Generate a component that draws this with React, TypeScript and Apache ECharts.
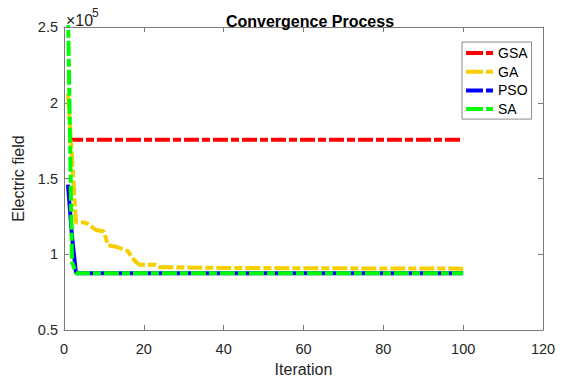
import React, { useEffect, useRef } from "react";
import * as echarts from "echarts";

// Iteration / value (x 10^5) breakpoints
const iterGSA = [1, 100];
const valGSA = [1.755, 1.755];
const iterGA = [1, 2, 3, 5, 6, 7, 8, 10, 11, 13, 16, 17, 18, 19, 23, 24, 40, 70, 100];
const valGA = [2.06, 1.64, 1.21, 1.21, 1.2, 1.18, 1.16, 1.15, 1.06, 1.05, 1.02, 0.98, 0.95, 0.93, 0.93, 0.915, 0.91, 0.907, 0.905];
const iterPSO = [1, 2, 3, 100];
const valPSO = [1.46, 1.12, 0.875, 0.875];
const iterSA = [1, 2, 3, 100];
const valSA = [2.6, 0.95, 0.875, 0.875];

const seriesNames = ["GSA", "GA", "PSO", "SA"];
const xTicks = { min: 0, max: 120, interval: 20 };
const yTicks = { min: 0.5, max: 2.5, interval: 0.5 };

const FONT = "'Liberation Sans', Arial, Helvetica, sans-serif";
const DASH = [15, 3, 8, 3];
const LEGEND_ICON = "path://M0,0L17,0L17,4L0,4Z M20,0L27,0L27,4L20,4Z";

function pairs(xs: number[], ys: number[]) {
  return xs.map((x, i) => [x, ys[i]]);
}

export default function App() {
  const ref = useRef<HTMLDivElement>(null);
  useEffect(() => {
    document.body.style.margin = "0";
    if (!ref.current) return;
    const chart = echarts.init(ref.current, undefined, { renderer: "svg" });
    const axisColor = "#7a7a7a";
    const labelColor = "#262626";
    const xBase = {
      type: "value" as const,
      min: xTicks.min,
      max: xTicks.max,
      interval: xTicks.interval,
      splitLine: { show: false },
      axisLine: { show: true, onZero: false, lineStyle: { color: axisColor, width: 1 } },
      axisTick: { show: true, inside: true, length: 5, lineStyle: { color: axisColor } },
    };
    const yBase = {
      type: "value" as const,
      min: yTicks.min,
      max: yTicks.max,
      interval: yTicks.interval,
      splitLine: { show: false },
      axisLine: { show: true, onZero: false, lineStyle: { color: axisColor, width: 1 } },
      axisTick: { show: true, inside: true, length: 5, lineStyle: { color: axisColor } },
    };
    const mk = (name: string, color: string, data: number[][], type: any) => ({
      name,
      type: "line",
      data,
      symbol: "none",
      lineStyle: { color, width: 4, type, cap: "butt" },
      itemStyle: { color },
      z: 3,
    });
    chart.setOption({
      animation: false,
      backgroundColor: "#ffffff",
      textStyle: { fontFamily: FONT },
      title: {
        text: "Convergence Process",
        left: 305,
        textAlign: "center",
        top: 8,
        textStyle: { fontSize: 16, fontWeight: "bold", color: "#000", fontFamily: FONT },
      },
      grid: { left: 64, right: 22, top: 27, bottom: 49, containLabel: false },
      xAxis: [
        {
          ...xBase,
          position: "bottom",
          name: "Iteration",
          nameLocation: "middle",
          nameGap: 31,
          nameTextStyle: { fontSize: 16, color: labelColor, fontFamily: FONT },
          axisLabel: { fontSize: 14.5, color: labelColor, margin: 11, fontFamily: FONT },
        },
        { ...xBase, position: "top", axisLabel: { show: false } },
      ],
      yAxis: [
        {
          ...yBase,
          position: "left",
          name: "Electric field",
          nameLocation: "middle",
          nameGap: 35,
          nameTextStyle: { fontSize: 16, color: labelColor, fontFamily: FONT },
          axisLabel: { fontSize: 14.5, color: labelColor, margin: 6, fontFamily: FONT },
        },
        { ...yBase, position: "right", axisLabel: { show: false } },
      ],
      legend: {
        orient: "vertical",
        left: 462,
        top: 42,
        itemWidth: 27,
        itemHeight: 4,
        itemGap: 4.7,
        padding: [4, 4, 3, 4],
        borderColor: "#888",
        borderWidth: 1,
        backgroundColor: "#fff",
        icon: LEGEND_ICON,
        textStyle: { fontSize: 14, color: "#000", fontFamily: FONT },
        data: seriesNames.map((n) => ({ name: n, icon: LEGEND_ICON })),
      },
      graphic: [
        {
          type: "text",
          x: 66,
          y: 12,
          style: { text: "×10", font: "16px 'Liberation Sans', Arial, sans-serif", fill: labelColor },
        },
        {
          type: "text",
          x: 92,
          y: 7,
          style: { text: "5", font: "12px 'Liberation Sans', Arial, sans-serif", fill: labelColor },
        },
      ],
      series: [
        mk("GSA", "#ff0000", pairs(iterGSA, valGSA), DASH),
        mk("GA", "#f7cf00", pairs(iterGA, valGA), DASH),
        mk("PSO", "#0000ff", pairs(iterPSO, valPSO), "solid"),
        mk("SA", "#00ff00", pairs(iterSA, valSA), DASH),
      ],
    });
    return () => chart.dispose();
  }, []);
  return <div ref={ref} style={{ width: 565, height: 382 }} />;
}
